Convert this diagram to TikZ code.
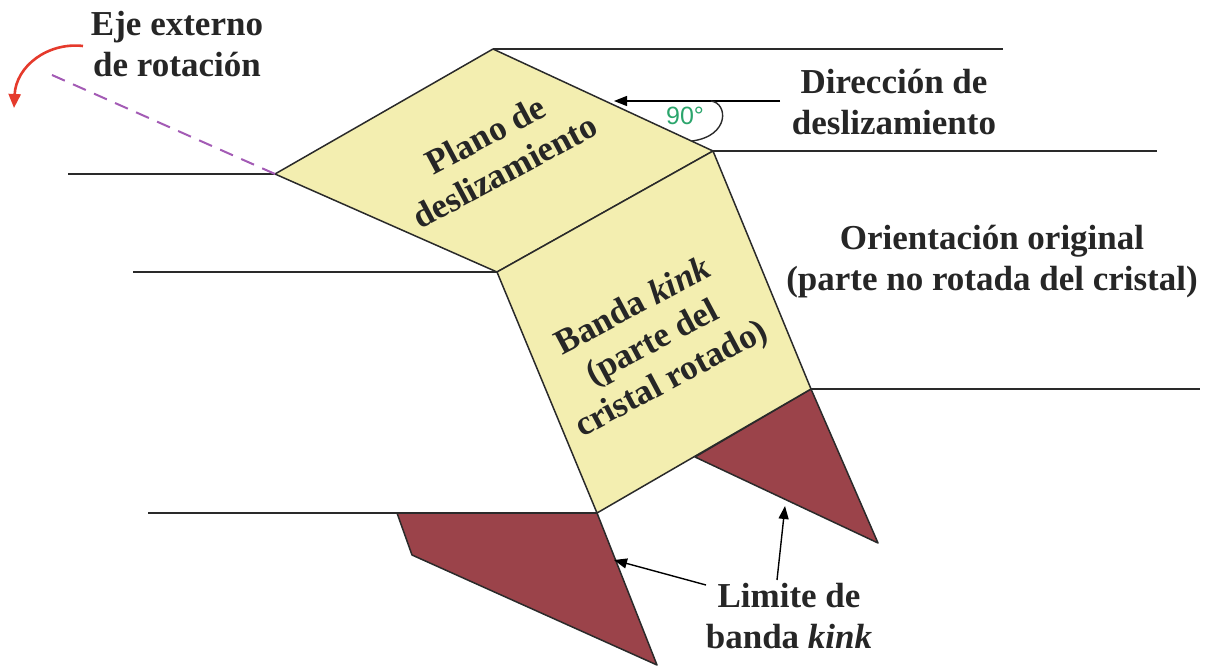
\documentclass[tikz,border=0pt]{standalone}
\usepackage{fontspec}
\setmainfont{Liberation Serif}
\setsansfont{Liberation Sans}
\usetikzlibrary{arrows.meta}
\definecolor{planefill}{HTML}{F3EEB0}
\definecolor{kinkred}{HTML}{9B434A}
\definecolor{edgecol}{HTML}{2A2A2A}
\definecolor{anglegreen}{HTML}{2BA56C}
\definecolor{axispurple}{HTML}{A35BB5}
\definecolor{rotred}{HTML}{E53A2C}
\begin{document}
\begin{tikzpicture}[x=1pt,y=-1pt,
  refline/.style={draw=edgecol,line width=1.8pt},
  facet/.style={draw=edgecol,line width=1.5pt,line join=round,fill=planefill},
  boundary/.style={draw=edgecol,line width=1.5pt,line join=round,fill=kinkred},
  label/.style={font=\bfseries\fontsize{35}{41}\selectfont,text=black!85,align=center,inner sep=0pt},
  pointer/.style={draw=black,line width=1.4pt,-{Triangle[length=13pt,width=10pt]}}]
\useasboundingbox (0,0) rectangle (1210,668);

% corners of the slip plane and of the kink band
\coordinate (pa) at (493,49);
\coordinate (pb) at (713,151);
\coordinate (pc) at (497,272);
\coordinate (pd) at (275,174);
\coordinate (ke) at (811,389);
\coordinate (kf) at (597,513);

% horizontal traces of the unrotated crystal
\coordinate (l1) at (1003,49);
\coordinate (l2) at (1157,151);
\coordinate (l3) at (68,174);
\coordinate (l4) at (133,272);
\coordinate (l5) at (1200,389);
\coordinate (l6) at (148,513);
\draw[refline] (pa) -- (l1);
\draw[refline] (pb) -- (l2);
\draw[refline] (l3) -- (pd);
\draw[refline] (l4) -- (pc);
\draw[refline] (ke) -- (l5);
\draw[refline] (l6) -- (kf);

% kink band boundaries
\draw[boundary] (397,513) -- (kf) -- (657,665) -- (412,555) -- cycle;
\draw[boundary] (ke) -- (878,543) -- (695,457) -- cycle;

% slip plane and kink band
\draw[facet] (pa) -- (pb) -- (pc) -- (pd) -- cycle;
\draw[facet] (pc) -- (pb) -- (ke) -- (kf) -- cycle;

% external rotation axis
\coordinate (axisend) at (52,75);
\draw[axispurple,line width=2pt,dash pattern=on 14pt off 9pt] (pd) -- (axisend);
\coordinate (rotstart) at (83,46);
\coordinate (rotend) at (14,108);
\draw[rotred,line width=2.6pt,-{Triangle[length=14pt,width=12pt]}]
  (rotstart) .. controls (48,42) and (16,66) .. (rotend);

% slip direction with right angle mark
\coordinate (dirstart) at (780,101);
\coordinate (dirend) at (614,101);
\draw[pointer] (dirstart) -- (dirend);
\coordinate (angA) at (711,101);
\coordinate (angB) at (692,141);
\draw[edgecol,line width=1.4pt] (angA) .. controls (728,103) and (730,136) .. (angB);
\node[text=anglegreen,font=\sffamily\fontsize{25}{25}\selectfont,inner sep=0pt] (ang) at (685,116) {90°};

% labels
\node[label] (eje) at (177,44) {Eje externo\\de rotación};
\node[label] (dir) at (894,102) {Dirección de\\deslizamiento};
\node[label] (ori) at (992,262) {Orientación original\\(parte no rotada del cristal)};
\node[label] (lim) at (789,616) {Limite de\\banda \textit{kink}};
\node[label,rotate=28] (plano) at (495,153) {Plano de\\deslizamiento};
\node[label,rotate=28] (banda) at (653,344) {Banda \textit{kink}\\(parte del\\cristal rotado)};

% pointers to the band boundaries
\coordinate (bleft) at (614,560);
\coordinate (bright) at (785,506);
\draw[pointer] (706,585) -- (bleft);
\draw[pointer] (777,580) -- (bright);
\end{tikzpicture}
\end{document}
